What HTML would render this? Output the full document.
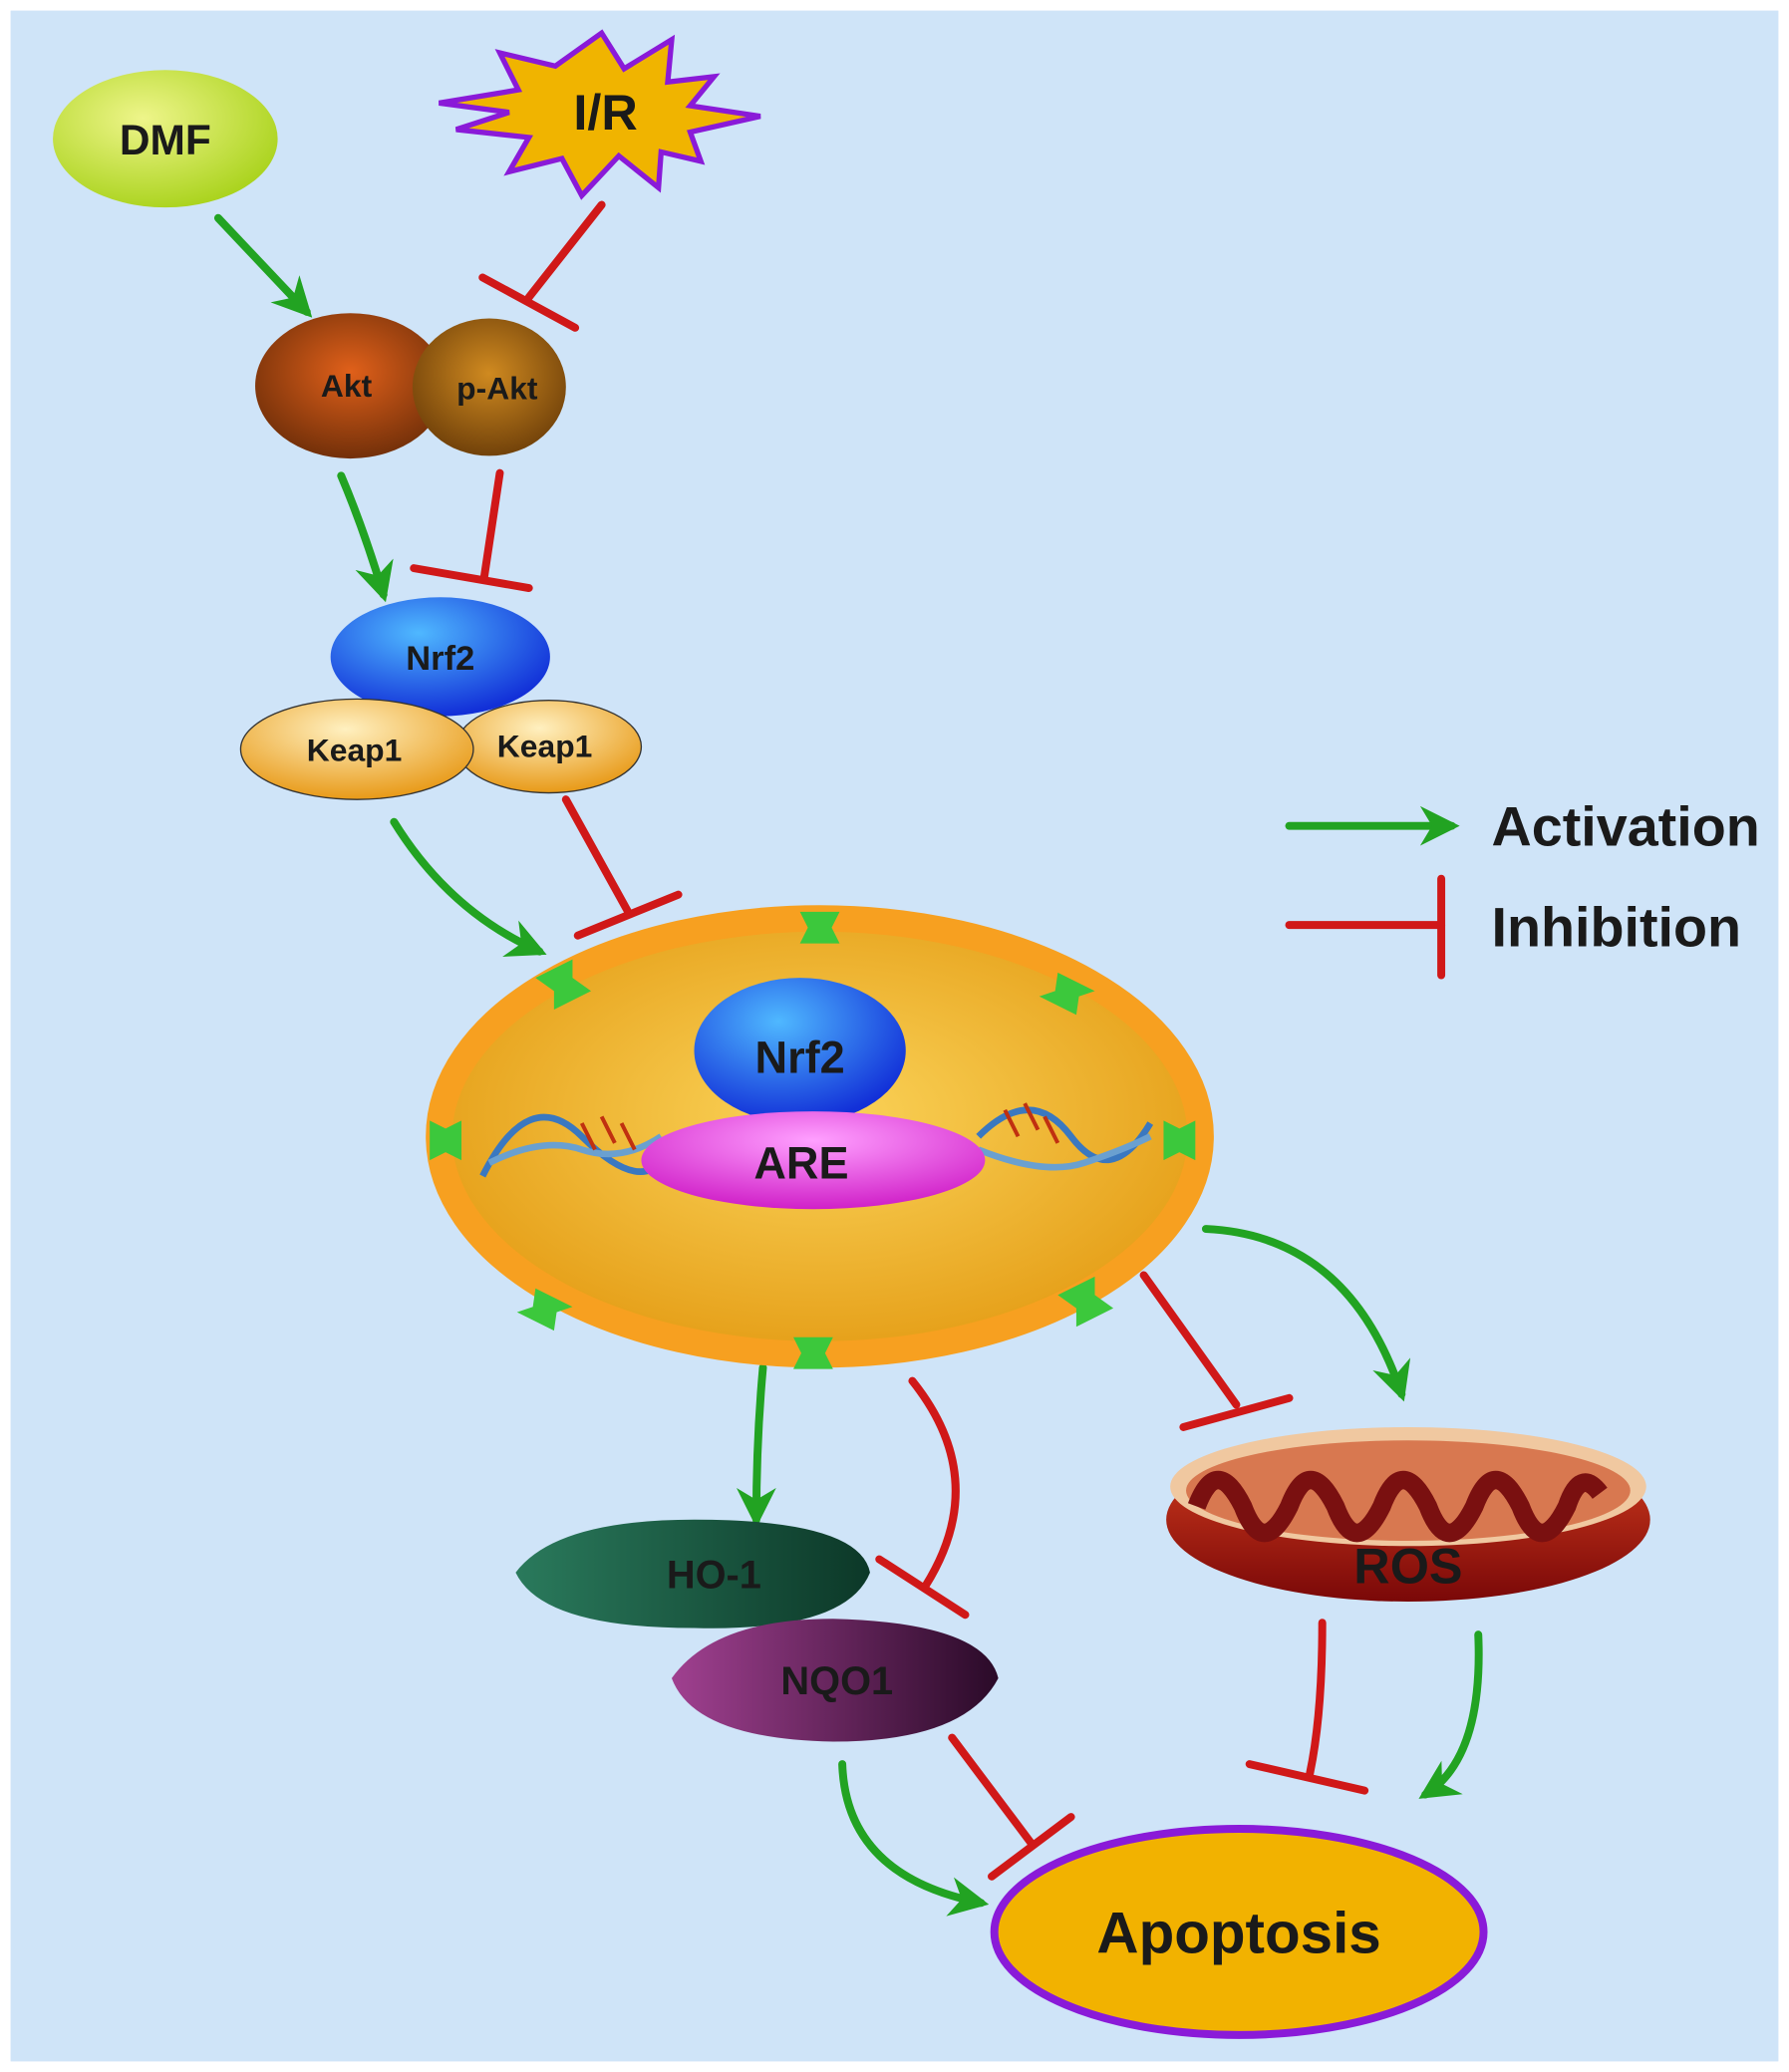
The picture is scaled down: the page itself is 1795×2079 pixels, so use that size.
<!DOCTYPE html>
<html><head><meta charset="utf-8"><style>
html,body{margin:0;padding:0;background:#fff;width:1795px;height:2079px;overflow:hidden}
svg{display:block}
text{font-family:"Liberation Sans",sans-serif;font-weight:bold;text-anchor:middle;fill:#1a1a1a}
</style></head><body>
<svg width="1795" height="2079" viewBox="0 0 1353 1568" preserveAspectRatio="none">
<defs>
<radialGradient id="gDMF" cx="40%" cy="35%" r="70%"><stop offset="0" stop-color="#eef58a"/><stop offset="1" stop-color="#a8d21a"/></radialGradient>
<radialGradient id="gAkt" cx="50%" cy="40%" r="65%"><stop offset="0" stop-color="#e0601a"/><stop offset="1" stop-color="#6a2c08"/></radialGradient>
<radialGradient id="gpAkt" cx="50%" cy="40%" r="65%"><stop offset="0" stop-color="#d08a20"/><stop offset="1" stop-color="#6a3c08"/></radialGradient>
<radialGradient id="gNrf" cx="40%" cy="30%" r="70%"><stop offset="0" stop-color="#4fb8ff"/><stop offset="1" stop-color="#1230d8"/></radialGradient>
<radialGradient id="gKeap" cx="45%" cy="30%" r="70%"><stop offset="0" stop-color="#fff0c0"/><stop offset="1" stop-color="#e89a18"/></radialGradient>
<radialGradient id="gNuc" cx="50%" cy="45%" r="60%"><stop offset="0" stop-color="#fbd45a"/><stop offset="1" stop-color="#e39a12"/></radialGradient>
<radialGradient id="gARE" cx="50%" cy="30%" r="70%"><stop offset="0" stop-color="#ffa0ff"/><stop offset="1" stop-color="#d020c8"/></radialGradient>
<linearGradient id="gHO" x1="0" x2="1"><stop offset="0" stop-color="#2a7a5c"/><stop offset="1" stop-color="#0c3828"/></linearGradient>
<linearGradient id="gNQ" x1="0" x2="1"><stop offset="0" stop-color="#a04090"/><stop offset="1" stop-color="#2a0a28"/></linearGradient>
<linearGradient id="gMito" x1="0" y1="0" x2="0" y2="1"><stop offset="0" stop-color="#d84020"/><stop offset="1" stop-color="#7a0808"/></linearGradient>
<marker id="ag" viewBox="0 0 10 10" refX="8" refY="5" markerWidth="5" markerHeight="5" orient="auto"><path d="M0,0 L10,5 L0,10 L3,5 z" fill="#22a322"/></marker>
</defs>
<rect x="0" y="0" width="1353" height="1568" fill="#fff"/>
<rect x="8" y="8" width="1337" height="1552" fill="#cfe4f8"/>

<g fill="none" stroke-width="6" stroke-linecap="round">
<g stroke="#22a322" marker-end="url(#ag)">
<path d="M165,165 L232,236"/>
<path d="M258,360 Q275,400 290,450"/>
<path d="M298,622 Q340,690 408,720"/>
<path d="M577,1035 Q572,1090 572,1150"/>
<path d="M912,930 Q1020,935 1060,1055"/>
<path d="M637,1335 Q640,1420 742,1440"/>
<path d="M1118,1237 Q1122,1330 1078,1358"/>
<path d="M975,625 L1098,625"/>
</g>
<g stroke="#d01818">
<path d="M455,155 L400,225"/><path d="M365,210 L435,248"/>
<path d="M378,358 L366,438"/><path d="M313,430 L400,445"/>
<path d="M428,605 L475,690"/><path d="M437,708 L513,677"/>
<path d="M690,1045 Q750,1120 700,1200"/><path d="M665,1180 L730,1222"/>
<path d="M865,965 L935,1063"/><path d="M895,1080 L975,1058"/>
<path d="M720,1315 L780,1395"/><path d="M750,1420 L810,1375"/>
<path d="M1000,1228 Q1000,1300 990,1345"/><path d="M945,1335 L1032,1355"/>
<path d="M975,700 L1090,700"/><path d="M1090,665 L1090,738"/>
</g>
</g>

<ellipse cx="125" cy="105" rx="85" ry="52" fill="url(#gDMF)"/>
<text x="125" y="117" font-size="32">DMF</text>
<polygon points="455,25 472,52 508,30 505,62 540,58 522,80 575,88 522,100 530,122 500,115 498,142 468,118 440,148 425,120 385,130 400,104 345,98 385,85 332,78 392,68 378,40 420,50" fill="#f0b400" stroke="#8a1ad8" stroke-width="4"/>
<text x="458" y="98" font-size="38">I/R</text>

<ellipse cx="265" cy="292" rx="72" ry="55" fill="url(#gAkt)"/>
<ellipse cx="370" cy="293" rx="58" ry="52" fill="url(#gpAkt)"/>
<text x="262" y="300" font-size="24">Akt</text>
<text x="376" y="302" font-size="24">p-Akt</text>

<ellipse cx="333" cy="497" rx="83" ry="45" fill="url(#gNrf)"/>
<text x="333" y="507" font-size="26">Nrf2</text>
<ellipse cx="415" cy="565" rx="70" ry="35" fill="url(#gKeap)" stroke="#333" stroke-width="1"/>
<ellipse cx="270" cy="567" rx="88" ry="38" fill="url(#gKeap)" stroke="#333" stroke-width="1"/>
<text x="268" y="576" font-size="24">Keap1</text>
<text x="412" y="573" font-size="24">Keap1</text>

<ellipse cx="620" cy="860" rx="288" ry="165" fill="url(#gNuc)" stroke="#f7a020" stroke-width="20"/>
<g fill="#3cc83c">
<path d="M605,690 l30,0 -6,12 6,12 -30,0 6,-12z"/>
<path d="M600,1012 l30,0 -6,12 6,12 -30,0 6,-12z"/>
<path d="M325,848 l0,30 12,-6 12,6 0,-30 -12,6z"/>
<path d="M880,848 l0,30 12,-6 12,6 0,-30 -12,6z"/>
<path d="M405,740 l28,-14 0,14 14,10 -28,14 0,-14z"/>
<path d="M800,736 l28,14 -12,4 -2,14 -28,-14 12,-4z"/>
<path d="M405,975 l28,14 -12,4 -2,14 -28,-14 12,-4z"/>
<path d="M800,980 l28,-14 0,14 14,10 -28,14 0,-14z"/>
</g>
<g fill="none" stroke-width="5">
<path d="M365,890 Q400,820 440,860 T500,880" stroke="#3a78c0"/>
<path d="M370,880 Q410,860 440,870 T500,860" stroke="#6aa0d0"/>
<path d="M740,860 Q780,820 810,860 T870,850" stroke="#3a78c0"/>
<path d="M740,870 Q790,890 820,880 T870,860" stroke="#6aa0d0"/>
</g>
<g stroke="#c03010" stroke-width="3">
<path d="M440,850 l10,20 M455,845 l10,20 M470,850 l10,20"/>
<path d="M760,840 l10,20 M775,835 l10,20 M790,845 l10,20"/>
</g>
<ellipse cx="605" cy="795" rx="80" ry="55" fill="url(#gNrf)"/>
<ellipse cx="615" cy="878" rx="130" ry="37" fill="url(#gARE)"/>
<text x="605" y="812" font-size="34">Nrf2</text>
<text x="606" y="892" font-size="34">ARE</text>

<path d="M390,1190 Q420,1150 525,1150 Q650,1150 658,1190 Q640,1235 525,1232 Q410,1232 390,1190z" fill="url(#gHO)"/>
<text x="540" y="1202" font-size="30">HO-1</text>
<path d="M508,1270 Q540,1225 630,1225 Q745,1228 755,1270 Q730,1318 630,1318 Q525,1316 508,1270z" fill="url(#gNQ)"/>
<text x="633" y="1282" font-size="30">NQO1</text>

<ellipse cx="1065" cy="1150" rx="183" ry="62" fill="url(#gMito)"/>
<ellipse cx="1065" cy="1125" rx="180" ry="45" fill="#f0c8a0"/>
<ellipse cx="1065" cy="1128" rx="168" ry="38" fill="#d87850"/>
<path d="M905,1140 q15,-40 35,0 q15,40 35,0 q15,-40 35,0 q15,40 35,0 q15,-40 35,0 q15,40 35,0 q15,-40 35,0 q15,40 35,0 q10,-30 25,-10" fill="none" stroke="#7a1010" stroke-width="14"/>
<text x="1065" y="1198" font-size="38">ROS</text>

<ellipse cx="937" cy="1462" rx="185" ry="78" fill="#f2b200" stroke="#8a1ad8" stroke-width="6"/>
<text x="937" y="1478" font-size="44">Apoptosis</text>

<text x="1128" y="640" font-size="42" style="text-anchor:start" fill="#333">Activation</text>
<text x="1128" y="716" font-size="42" style="text-anchor:start" fill="#333">Inhibition</text>
</svg>
</body></html>
